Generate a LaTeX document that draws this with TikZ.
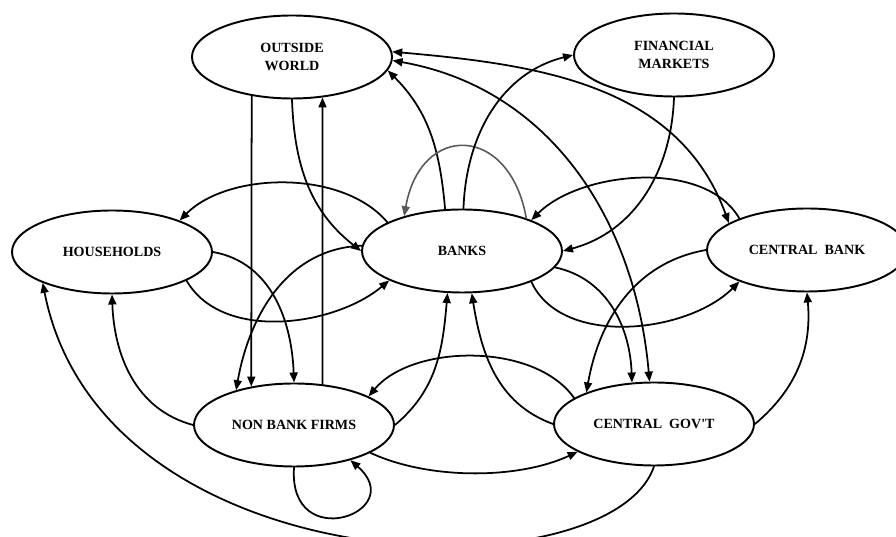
\documentclass[tikz,border=0pt]{standalone}
\usepackage{fontspec}
\setmainfont{Liberation Serif}
\usetikzlibrary{arrows.meta,shapes.geometric}
\begin{document}
\begin{tikzpicture}[line join=round, line cap=round, >={Triangle[length=2mm,width=1.6mm]},
	sector/.style={draw, ellipse, line width=1.1pt, minimum width=4cm, minimum height=1.66cm,
		inner sep=0pt, align=center, font=\bfseries\fontsize{8}{10.2}\selectfont},
	flow/.style={->, line width=1pt}]
	\useasboundingbox (0,0) rectangle (17.92,10.74);
	% sectors
	\node[sector] (ow) at (5.84,9.60) {OUTSIDE\\WORLD};
	\node[sector] (fm) at (13.48,9.64) {FINANCIAL\\MARKETS};
	\node[sector] (hh) at (2.24,5.70) {HOUSEHOLDS};
	\node[sector] (bk) at (9.24,5.72) {BANKS};
	\node[sector] (cb) at (16.14,5.74) {CENTRAL\ \ BANK};
	\node[sector] (nbf) at (5.88,2.24) {NON BANK FIRMS};
	\node[sector] (cg) at (13.08,2.26) {CENTRAL\ \ GOV\textquotesingle T};
	% outside world
	\draw[flow] (ow.224) -- (nbf.138);
	\draw[flow] (nbf.55) -- (ow.-53);
	\draw[flow] (ow.south) to[out=-88,in=142] (bk.west);
	\draw[flow] (bk.112) to[out=95,in=-45] (ow.-8);
	\draw[flow,<->] (ow.3) to[out=-5,in=110] (cb.161);
	\draw[flow,<->] (ow.-2) to[out=-10,in=95] (cg.96);
	% banks
	\draw[flow,black!65,line width=.9pt] (bk.27) to[out=100,in=80,looseness=2] (bk.149);
	\draw[flow] (bk.88) to[out=88,in=194] (fm.west);
	\draw[flow] (fm.south) to[out=-92,in=15] (bk.east);
	\draw[flow] (bk.159) to[out=130,in=45,looseness=.85] (hh.25);
	\draw[flow] (hh.-21) to[out=-60,in=-140,looseness=.9] (bk.202);
	\draw[flow] (bk.177) to[out=182,in=80] (nbf.149);
	\draw[flow] (nbf.east) to[out=40,in=-95] (bk.251);
	\draw[flow] (cg.west) to[out=160,in=-81] (bk.-77);
	\draw[flow] (bk.-10) to[out=-12,in=92] (cg.118);
	\draw[flow] (cb.155) to[out=120,in=45,looseness=.85] (bk.24);
	\draw[flow] (bk.-24) to[out=-65,in=-135,looseness=.9] (cb.205);
	% households and firms
	\draw[flow] (hh.east) to[out=-10,in=92] (nbf.north);
	\draw[flow] (nbf.west) to[out=165,in=-88] (hh.south);
	\draw[flow] (nbf.south) .. controls +(-0.12,-1.76) and +(1.2,-1.04) .. (nbf.-32);
	\draw[flow] (cg.162) to[out=125,in=50,looseness=.85] (nbf.21);
	\draw[flow] (nbf.-20) to[out=-25,in=-155,looseness=.8] (cg.200);
	% government and central bank
	\draw[flow] (cg.south) .. controls +(-0.88,-2.58) and +(1.2,-6.1) .. (hh.204);
	\draw[flow] (cb.west) to[out=190,in=80] (cg.155);
	\draw[flow] (cg.east) to[out=40,in=-85] (cb.south);
\end{tikzpicture}
\end{document}
